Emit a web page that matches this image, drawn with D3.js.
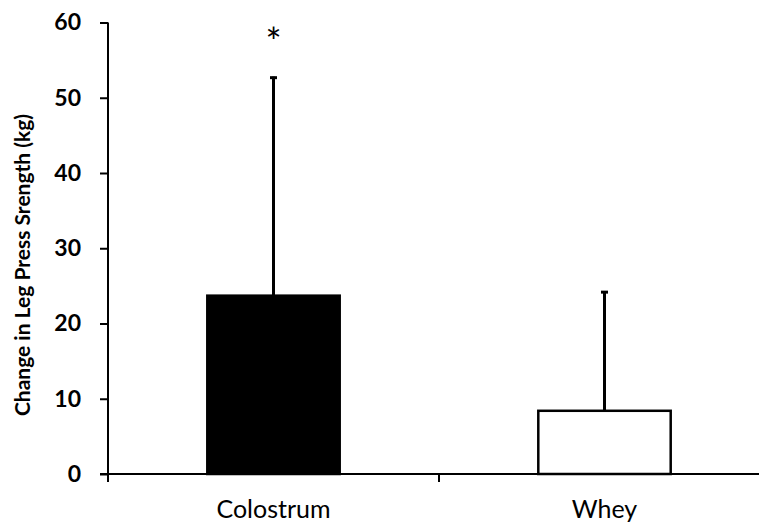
<!DOCTYPE html>
<html>
<head>
<meta charset="utf-8">
<script src="https://cdn.jsdelivr.net/npm/d3@7"></script>
<style>
  body { margin: 0; background: #fff; }
  text { font-family: Lato, "Open Sans", sans-serif; }
</style>
</head>
<body>
<div id="chart"></div>
<script>
var categories = ["Colostrum", "Whey"];
var means = [23.7, 8.4];
var sds = [29.1, 15.9];
var fills = ["#000000", "#ffffff"];
var marks = ["*", ""];
var yTicks = [0, 10, 20, 30, 40, 50, 60];

var width = 759, height = 525;

var svg = d3.select("#chart").append("svg")
    .attr("width", width)
    .attr("height", height);

var x = d3.scaleBand()
    .domain(categories)
    .range([108, 770])
    .paddingInner(0.6)
    .paddingOuter(0.3);

var y = d3.scaleLinear()
    .domain([0, 60])
    .range([474, 22.5]);

// y axis
var yAxis = svg.append("g")
    .attr("transform", "translate(108,0)")
    .call(d3.axisLeft(y).tickValues(yTicks).tickSize(8).tickPadding(19));
yAxis.select(".domain").attr("stroke-width", 2).attr("d", "M0," + y(60) + "V" + (y(0) + 8));
yAxis.selectAll(".tick line").attr("stroke-width", 2);
yAxis.selectAll(".tick text")
    .attr("font-size", 23)
    .attr("font-weight", "bold")
    .attr("fill", "#000");

// x axis
var xAxis = svg.append("g")
    .attr("transform", "translate(0," + y(0) + ")");
xAxis.append("line")
    .attr("x1", 100).attr("x2", 770)
    .attr("stroke", "#000").attr("stroke-width", 2);
xAxis.append("line")
    .attr("x1", x.step() + 108).attr("x2", x.step() + 108)
    .attr("y1", 0).attr("y2", 8)
    .attr("stroke", "#000").attr("stroke-width", 2);
xAxis.selectAll(".cat").data(categories).enter()
    .append("text")
    .attr("class", "cat")
    .attr("x", function (d) { return x(d) + x.bandwidth() / 2; })
    .attr("y", 44)
    .attr("text-anchor", "middle")
    .attr("font-size", 25)
    .attr("fill", "#000")
    .text(function (d) { return d; });

// error bars (upper only)
var errs = svg.append("g");
categories.forEach(function (c, i) {
    var cx = x(c) + x.bandwidth() / 2;
    errs.append("line")
        .attr("x1", cx).attr("x2", cx)
        .attr("y1", y(means[i])).attr("y2", y(means[i] + sds[i]))
        .attr("stroke", "#000").attr("stroke-width", 3);
    errs.append("line")
        .attr("x1", cx - 3.5).attr("x2", cx + 3.5)
        .attr("y1", y(means[i] + sds[i]) + 1).attr("y2", y(means[i] + sds[i]) + 1)
        .attr("stroke", "#000").attr("stroke-width", 3);
    if (marks[i]) {
        svg.append("text")
            .attr("x", cx)
            .attr("y", 56)
            .attr("text-anchor", "middle")
            .attr("font-size", 38)
            .attr("fill", "#000")
            .text(marks[i]);
    }
});

// bars
svg.append("g").selectAll("rect").data(categories).enter()
    .append("rect")
    .attr("x", function (d) { return x(d); })
    .attr("y", function (d, i) { return y(means[i]); })
    .attr("width", x.bandwidth())
    .attr("height", function (d, i) { return y(0) - y(means[i]); })
    .attr("fill", function (d, i) { return fills[i]; })
    .attr("stroke", "#000")
    .attr("stroke-width", 2.5);

// y label
svg.append("text")
    .attr("transform", "translate(30,265) rotate(-90)")
    .attr("text-anchor", "middle")
    .attr("font-size", 21)
    .attr("font-weight", "bold")
    .attr("fill", "#000")
    .text("Change in Leg Press Srength (kg)");
</script>
</body>
</html>
